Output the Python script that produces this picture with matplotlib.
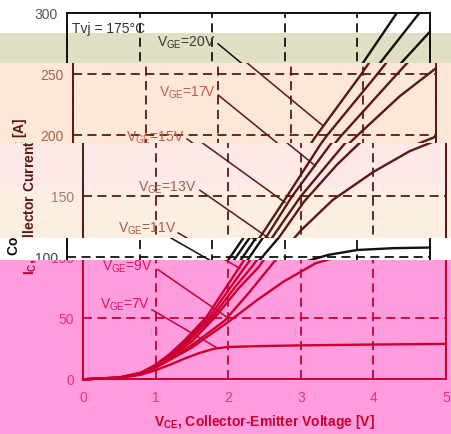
import matplotlib
matplotlib.use("Agg")
import matplotlib.pyplot as plt
from matplotlib.patches import Rectangle
from matplotlib.text import Text
from matplotlib.transforms import Bbox, TransformedBbox

plt.rcParams['font.family'] = ['Liberation Sans', 'DejaVu Sans']
plt.rcParams['mathtext.fontset'] = 'custom'
plt.rcParams['mathtext.rm'] = 'Liberation Sans'
plt.rcParams['mathtext.it'] = 'Liberation Sans:italic'
plt.rcParams['mathtext.bf'] = 'Liberation Sans:bold'

# output characteristic Ic = f(Vce) at Tvj = 175 C, one curve per gate voltage
vce_20v = [0, 0.5, 0.8, 1.0, 1.2, 1.4, 1.7, 2.0, 2.2, 2.5, 2.81, 3.33, 3.97, 4.54]
ic_20v = [0, 1.5, 5.5, 12, 21, 32, 51, 78, 96, 122, 150, 198, 250, 300]
vce_17v = [0, 0.5, 0.8, 1.0, 1.2, 1.4, 1.74, 2.05, 2.28, 2.55, 2.88, 3.5, 4.19, 4.85]
ic_17v = [0, 1.5, 5.3, 11.5, 20, 30, 51, 77, 96, 119, 150, 200, 250, 300]
vce_15v = [0, 0.5, 0.8, 1.0, 1.2, 1.45, 1.78, 2.1, 2.35, 2.65, 3.0, 3.7, 4.46, 5.0]
ic_15v = [0, 1.4, 5.0, 11, 19, 31, 51, 76, 94, 120, 150, 200, 250, 285]
vce_13v = [0, 0.5, 0.8, 1.0, 1.2, 1.5, 1.82, 2.15, 2.42, 2.72, 3.05, 3.5, 3.92, 4.5, 5.0]
ic_13v = [0, 1.3, 4.8, 10.5, 18, 31, 51, 75, 92, 118, 146, 176, 200, 232, 255]
vce_11v = [0, 0.5, 0.8, 1.0, 1.2, 1.5, 1.95, 2.3, 2.6, 3.0, 3.44, 4.0, 4.5, 5.0]
ic_11v = [0, 1.2, 4.5, 10, 17, 28, 48, 72, 94, 122, 147, 170, 187, 199]
vce_9v = [0, 0.5, 0.8, 1.0, 1.2, 1.5, 2.0, 2.4, 2.76, 3.2, 3.6, 4.0, 4.5, 5.0]
ic_9v = [0, 1.2, 4.3, 9.5, 16, 26, 47, 65, 80, 95, 102, 106, 107.5, 108]
vce_7v = [0, 0.5, 0.8, 1.0, 1.2, 1.4, 1.6, 1.8, 2.0, 2.5, 3.0, 4.0, 5.0]
ic_7v = [0, 1.0, 3.8, 7.5, 12, 17, 21.5, 25, 26.5, 27.3, 27.8, 28.5, 29]

curves = [(vce_20v, ic_20v), (vce_17v, ic_17v), (vce_15v, ic_15v),
          (vce_13v, ic_13v), (vce_11v, ic_11v), (vce_9v, ic_9v), (vce_7v, ic_7v)]

# gate voltage labels: text anchor (right/center) and leader line start/end
gate_labels = [r"V$_{\mathrm{GE}}$=20V", r"V$_{\mathrm{GE}}$=17V", r"V$_{\mathrm{GE}}$=15V",
               r"V$_{\mathrm{GE}}$=13V", r"V$_{\mathrm{GE}}$=11V", r"V$_{\mathrm{GE}}$=9V",
               r"V$_{\mathrm{GE}}$=7V"]
label_xy = [(2.04, 276), (1.97, 235), (1.54, 198), (1.57, 157), (1.29, 123), (0.96, 92), (0.92, 61)]
leader_start = [(2.08, 275), (2.0, 233), (1.57, 197), (1.61, 155), (1.31, 120), (1.03, 90), (0.95, 57)]
leader_end = [(3.44, 208), (3.2, 175), (2.78, 145), (2.6, 114), (2.16, 91), (1.98, 51), (1.84, 26)]

x_ticks = [0, 1, 2, 3, 4, 5]
y_ticks = [0, 50, 100, 150, 200, 250, 300]

W, H = 451, 434
fig = plt.figure(figsize=(W / 100, H / 100), dpi=100, facecolor='white')

# horizontal strips: top px, bottom px, x offset px, background, line, label, tick colour
strips = [
    (0, 33, 0, '#ffffff', '#111111', '#333333', '#555555'),
    (33, 63, 0, '#dfdfc4', '#111111', '#3a3a30', '#555555'),
    (63, 143, 6, '#fde8d8', '#5c1812', '#c25a4c', '#a8604e'),
    (143, 187, 16, '#fde9e8', '#5c1812', '#a55a50', '#a87868'),
    (187, 238, 16, '#fdeee2', '#5c1812', '#a55a50', '#a87868'),
    (238, 260, 0, '#ffffff', '#111111', '#333333', '#444444'),
    (260, 434, 16, '#ff9ddf', '#cc0030', '#e0105a', '#ee3070'),
]

clipped = []
for top, bot, dx, bg, lc, tc, kc in strips:
    fig.add_artist(Rectangle((0, 1 - bot / H), 1, (bot - top) / H, transform=fig.transFigure,
                             facecolor=bg, linewidth=0, zorder=-1))

    ax = fig.add_axes([(67 + dx) / W, (H - 379.3) / H, 363 / W, 366 / H])
    ax.patch.set_visible(False)

    for vce, ic in curves:
        ax.plot(vce, ic, color=lc, lw=1.7, solid_capstyle='round')
    for (x0, y0), (x1, y1) in zip(leader_start, leader_end):
        ax.plot([x0, x1], [y0, y1], color=lc, lw=1.1)
    for text, (x, y) in zip(gate_labels, label_xy):
        ax.text(x, y, text, ha='right', va='center', fontsize=10, color=tc)
    ax.text(0.07, 287, "Tvj = 175°C", ha='left', va='center', fontsize=10, color=tc)

    ax.set_xlim(0, 5)
    ax.set_ylim(0, 300)
    ax.set_xticks(x_ticks)
    ax.set_yticks(y_ticks)
    ax.tick_params(length=0, labelsize=10, labelcolor=kc)
    ax.tick_params(axis='x', pad=8.6)
    ax.tick_params(axis='y', pad=6.5)
    ax.grid(True, color=lc, lw=1.3, ls=(0, (5, 3)))
    for sp in ax.spines.values():
        sp.set_color(lc)
        sp.set_linewidth(1.4)

    ax.set_xlabel(r"V$_{\mathbf{CE}}$, Collector-Emitter Voltage [V]", fontsize=10,
                  fontweight='bold', color=lc)
    ax.set_ylabel(r"I$_{\mathbf{C}}$, Collector Current [A]", fontsize=10,
                  fontweight='bold', color=lc)
    ax.xaxis.set_label_coords(0.5, -0.092)
    ax.yaxis.set_label_coords(-0.121, 0.5)

    # keep this copy of the chart inside its own strip
    clip = TransformedBbox(Bbox([[0, 1 - bot / H], [1, 1 - top / H]]), fig.transFigure)
    for art in ax.findobj():
        if art is ax:
            continue
        art.set_clip_on(True)
        art.set_clip_box(clip)
    clipped.append((ax, clip))

# texts that fall wholly outside their strip are hidden
fig.canvas.draw()
renderer = fig.canvas.get_renderer()
for ax, clip in clipped:
    for t in ax.findobj(Text):
        if not t.get_text():
            continue
        bb = t.get_window_extent(renderer)
        if bb.y1 <= clip.y0 or bb.y0 >= clip.y1:
            t.set_visible(False)

fig.savefig("out.png", dpi=100)
